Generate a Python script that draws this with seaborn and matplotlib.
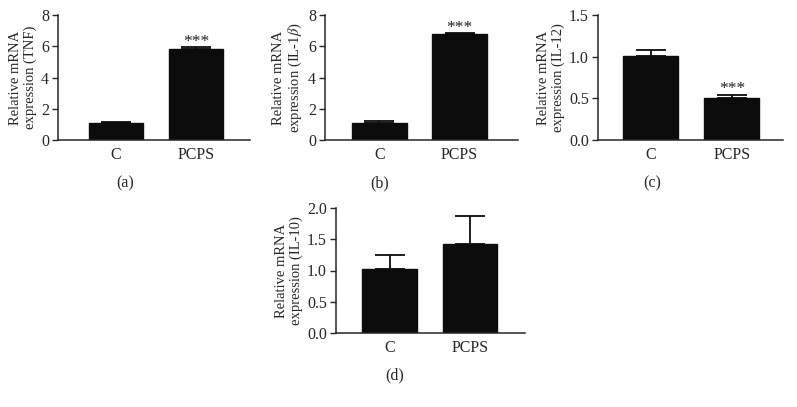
import matplotlib

matplotlib.use("Agg")
import matplotlib.pyplot as plt
import numpy as np
import pandas as pd
import seaborn as sns

# Data (mean and upper error, one-sided SEM bars)
groups = ["C", "PCPS"]

tnf_mean = [1.07, 5.80]
tnf_err = [0.06, 0.15]

il1b_mean = [1.07, 6.77]
il1b_err = [0.16, 0.06]

il12_mean = [1.01, 0.505]
il12_err = [0.065, 0.035]

il10_mean = [1.03, 1.43]
il10_err = [0.22, 0.45]

ylabels = [
    "Relative mRNA\nexpression (TNF)",
    "Relative mRNA\nexpression (IL-1$\\beta$)",
    "Relative mRNA\nexpression (IL-12)",
    "Relative mRNA\nexpression (IL-10)",
]
panel_tags = ["(a)", "(b)", "(c)", "(d)"]
signif = [[None, "***"], [None, "***"], [None, "***"], [None, None]]
yticks = [
    [0, 2, 4, 6, 8],
    [0, 2, 4, 6, 8],
    [0.0, 0.5, 1.0, 1.5],
    [0.0, 0.5, 1.0, 1.5, 2.0],
]

sns.set_style("ticks")
plt.rcParams["font.family"] = ["Liberation Serif", "DejaVu Serif"]
plt.rcParams["mathtext.fontset"] = "stix"

W, H = 797, 407
fig = plt.figure(figsize=(W / 100, H / 100), dpi=100)

# axes boxes in pixels: left, right, top, bottom ; x-limits ; tag position
boxes = [(58, 250, 15, 140), (325, 518, 15, 140), (598, 783, 15, 140), (336, 525, 208, 333)]
xlims = [(-0.725, 1.675), (-0.68, 1.73), (-0.65, 1.63), (-0.67, 1.69)]
tag_pos = [(125, 183), (380, 183), (652, 183), (395, 375)]

means = [tnf_mean, il1b_mean, il12_mean, il10_mean]
errs = [tnf_err, il1b_err, il12_err, il10_err]

for i in range(4):
    l, r, t, b = boxes[i]
    ax = fig.add_axes([l / W, 1 - b / H, (r - l) / W, (b - t) / H])
    df = pd.DataFrame({"group": groups, "value": means[i]})
    sns.barplot(data=df, x="group", y="value", color="#0c0c0c", width=0.68,
                edgecolor="#0c0c0c", linewidth=1, saturation=1, ax=ax)
    x = np.arange(len(groups))
    ax.errorbar(x, means[i], yerr=[np.zeros(len(groups)), errs[i]], fmt="none",
                ecolor="#0c0c0c", elinewidth=1.3, capsize=11, capthick=1.3, zorder=1)
    for j, s in enumerate(signif[i]):
        if s:
            ax.text(x[j], means[i][j] + errs[i][j] - yticks[i][-1] * 0.02, s,
                    ha="center", va="bottom", fontsize=12.5, color="#222222")
    ax.set_xlim(*xlims[i])
    ax.set_ylim(yticks[i][0], yticks[i][-1])
    ax.set_yticks(yticks[i])
    if yticks[i][-1] < 5:
        ax.set_yticklabels([f"{v:.1f}" for v in yticks[i]])
    ax.set_xlabel("")
    ax.set_ylabel(ylabels[i], fontsize=10.5, linespacing=1.1, labelpad=3)
    ax.tick_params(axis="y", length=4.5, width=1, labelsize=11.5, pad=2)
    ax.tick_params(axis="x", length=0, labelsize=11.5, pad=5)
    for sp in ["left", "bottom"]:
        ax.spines[sp].set_linewidth(1.1)
    sns.despine(ax=ax)
    fig.text(tag_pos[i][0] / W, 1 - tag_pos[i][1] / H, panel_tags[i],
             ha="center", va="center", fontsize=11.5)

fig.savefig("out.png", dpi=100, facecolor="white")
